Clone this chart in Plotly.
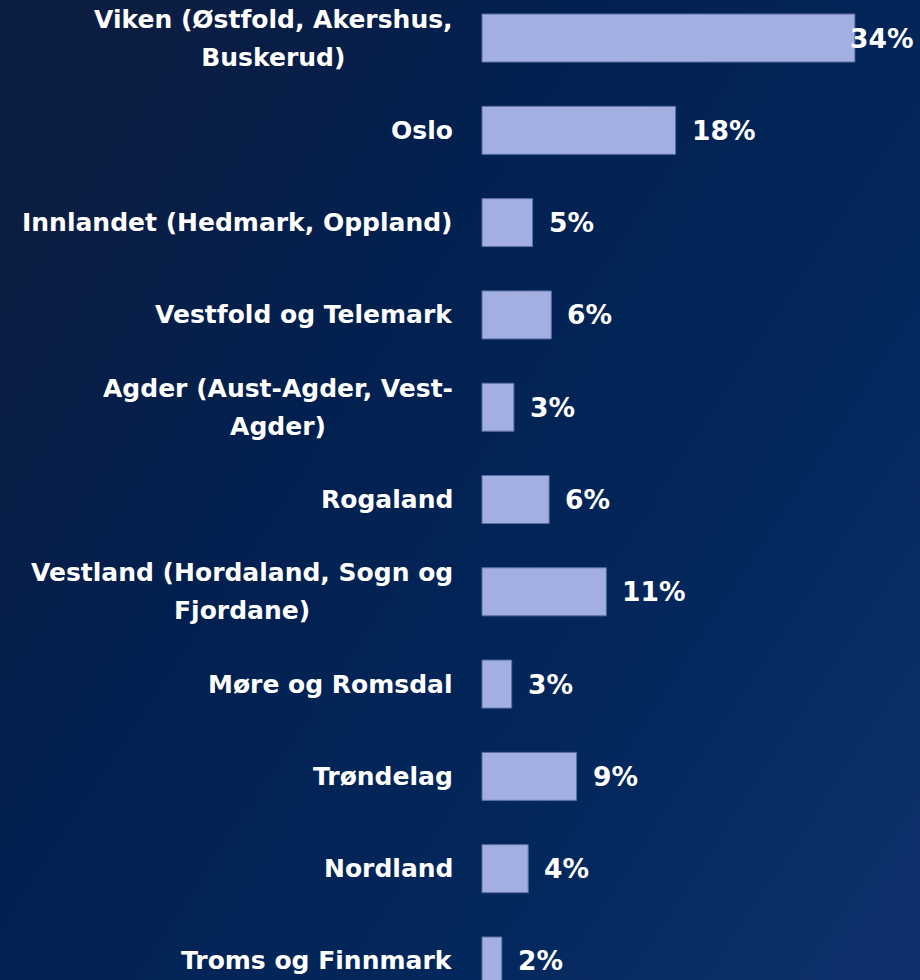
import base64
import plotly.graph_objects as go

# ---- data ----
categories = [
    "Viken (Østfold, Akershus, Buskerud)",
    "Oslo",
    "Innlandet (Hedmark, Oppland)",
    "Vestfold og Telemark",
    "Agder (Aust-Agder, Vest-Agder)",
    "Rogaland",
    "Vestland (Hordaland, Sogn og Fjordane)",
    "Møre og Romsdal",
    "Trøndelag",
    "Nordland",
    "Troms og Finnmark",
]
display_lines = [
    ["Viken (Østfold, Akershus,", "Buskerud)"],
    ["Oslo"],
    ["Innlandet (Hedmark, Oppland)"],
    ["Vestfold og Telemark"],
    ["Agder (Aust-Agder, Vest-", "Agder)"],
    ["Rogaland"],
    ["Vestland (Hordaland, Sogn og", "Fjordane)"],
    ["Møre og Romsdal"],
    ["Trøndelag"],
    ["Nordland"],
    ["Troms og Finnmark"],
]
values = [33.9, 17.6, 4.6, 6.3, 2.9, 6.1, 11.3, 2.7, 8.6, 4.2, 1.8]
value_labels = ["34%", "18%", "5%", "6%", "3%", "6%", "11%", "3%", "9%", "4%", "2%"]

# ---- style ----
W, H = 920, 980
FONT = "DejaVu Sans"
BAR_COLOR = "#a3afe1"
BAR_EDGE = "#5b6fa6"

svg = f"""<svg xmlns='http://www.w3.org/2000/svg' width='{W}' height='{H}' viewBox='0 0 {W} {H}' preserveAspectRatio='none'>
<defs><linearGradient id='g' x1='0' y1='0.25' x2='1' y2='0.95'>
<stop offset='0' stop-color='#0c1d42'/>
<stop offset='0.3' stop-color='#02204f'/>
<stop offset='0.7' stop-color='#03285d'/>
<stop offset='1' stop-color='#0e316d'/>
</linearGradient></defs>
<rect width='{W}' height='{H}' fill='url(#g)'/></svg>"""
bg_src = "data:image/svg+xml;base64," + base64.b64encode(svg.encode()).decode()

fig = go.Figure()
fig.add_trace(go.Bar(
    x=values,
    y=categories,
    orientation="h",
    width=0.52,
    marker=dict(color=BAR_COLOR, line=dict(color=BAR_EDGE, width=1)),
    hoverinfo="skip",
))

annotations = []
vmax = max(values)
for cat, lines, v, lab in zip(categories, display_lines, values, value_labels):
    text = "<br>".join(f"<span style='font-size:25px'>{ln}</span>" for ln in lines)
    annotations.append(dict(
        x=0, y=cat, xref="x", yref="y", text=text, showarrow=False,
        xanchor="right", yanchor="middle", align="center", xshift=-29,
        borderpad=0, borderwidth=0,
        font=dict(family=FONT, size=29, color="white", weight="bold"),
    ))
    if v == vmax:
        anc, shift = "right", 58
    else:
        anc, shift = "left", 16
    annotations.append(dict(
        x=v, y=cat, xref="x", yref="y", text=lab, showarrow=False,
        xanchor=anc, yanchor="middle", xshift=shift,
        borderpad=0, borderwidth=0,
        font=dict(family=FONT, size=26.5, color="white", weight="bold"),
    ))

fig.update_layout(
    width=W, height=H, autosize=False,
    margin=dict(l=0, r=0, t=0, b=0),
    paper_bgcolor="#02204f",
    plot_bgcolor="rgba(0,0,0,0)",
    showlegend=False,
    annotations=annotations,
    images=[dict(source=bg_src, xref="paper", yref="paper", x=0, y=1,
                 sizex=1, sizey=1, xanchor="left", yanchor="top",
                 sizing="stretch", layer="below")],
    xaxis=dict(range=[-43.82, 39.82], showgrid=False, zeroline=False,
               showticklabels=False, fixedrange=True),
    yaxis=dict(type="category", categoryorder="array", categoryarray=categories,
               range=[10.206, -0.412], showgrid=False, zeroline=False,
               showticklabels=False, fixedrange=True),
)

fig.write_html(
    "out.html",
    config={"displayModeBar": False},
    post_script="document.body.style.margin='0';document.body.style.overflow='hidden';",
)
